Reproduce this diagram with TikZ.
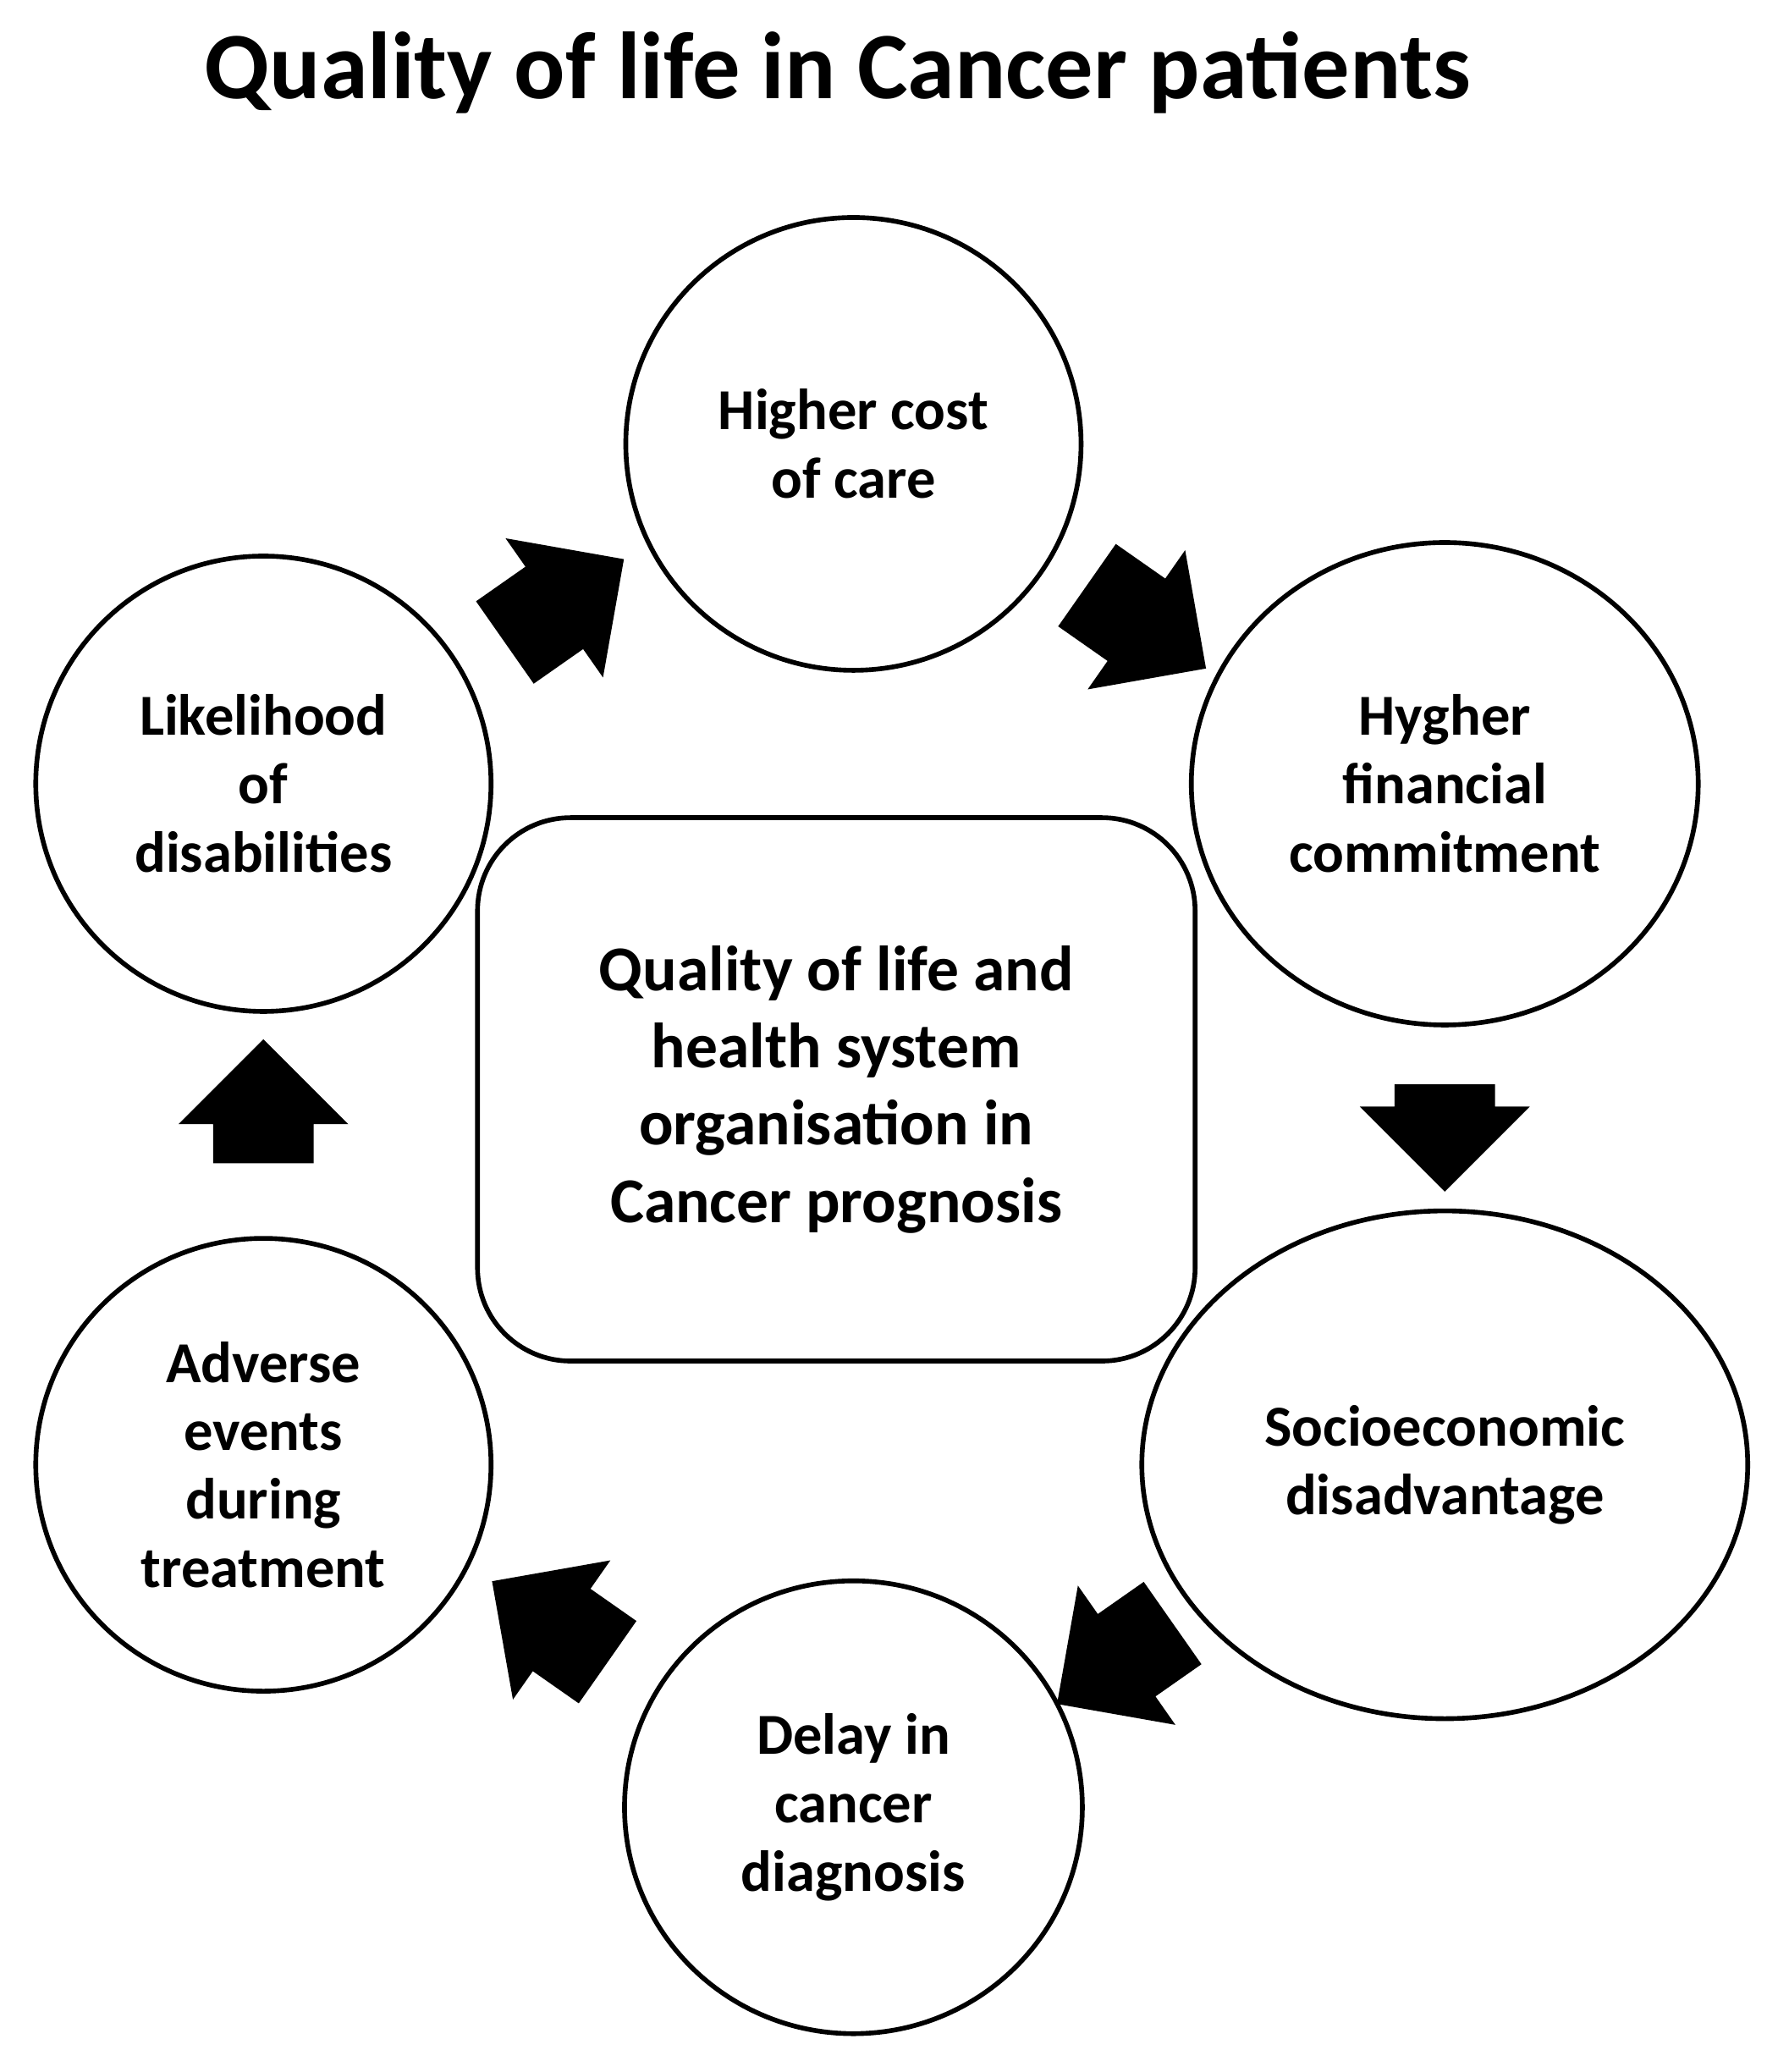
\documentclass[tikz,border=0pt]{standalone}
\usepackage{fontspec}
\setmainfont{Carlito}
\usetikzlibrary{shapes.geometric,shapes.arrows}
\begin{document}
\begin{tikzpicture}[x=0.01556cm,y=-0.01556cm,
  circ/.style={ellipse,draw,line width=1.6pt,align=center,font=\fontsize{19.5}{23}\selectfont\bfseries,inner sep=0pt},
  arr/.style={single arrow,fill=black,draw=black,inner xsep=0pt,inner ysep=0.58cm,single arrow head extend=0.4cm,single arrow head indent=0pt}]
\useasboundingbox (0,0) rectangle (1350,1573);
\node[font=\fontsize{32}{37}\selectfont\bfseries] (title) at (636,55) {Quality of life in Cancer patients};
\node[circ,minimum width=5.38cm,minimum height=5.35cm] (top) at (648,337) {Higher cost\\of care};
\node[circ,minimum width=5.99cm,minimum height=5.7cm] (ru) at (1097,595) {Hygher\\financial\\commitment};
\node[circ,minimum width=7.16cm,minimum height=6.0cm] (rl) at (1097,1112) {Socioeconomic\\disadvantage};
\node[circ,minimum width=5.41cm,minimum height=5.35cm] (bot) at (648,1372) {Delay in\\cancer\\diagnosis};
\node[circ,minimum width=5.38cm,minimum height=5.35cm] (ll) at (200,1112) {Adverse\\events\\during\\treatment};
\node[circ,minimum width=5.38cm,minimum height=5.38cm] (lu) at (200,595) {Likelihood\\of\\disabilities};
\node[draw,line width=1.6pt,rounded corners=1.1cm,minimum width=8.48cm,minimum height=6.42cm,align=center,font=\fontsize{21.5}{26}\selectfont\bfseries] (c) at (635,827) {Quality of life and\\health system\\organisation in\\Cancer prognosis};
\node[arr,minimum height=1.7cm,rotate=35] (a1) at (413,467) {};
\node[arr,minimum height=1.7cm,rotate=-35] (a2) at (855,465) {};
\node[arr,minimum height=1.25cm,rotate=-90] (a3) at (1097,845) {};
\node[arr,minimum height=1.65cm,rotate=-145] (a4) at (862,1252) {};
\node[arr,minimum height=1.65cm,rotate=145] (a5) at (433,1242) {};
\node[arr,minimum height=1.45cm,rotate=90] (a6) at (200,855) {};
\end{tikzpicture}
\end{document}
